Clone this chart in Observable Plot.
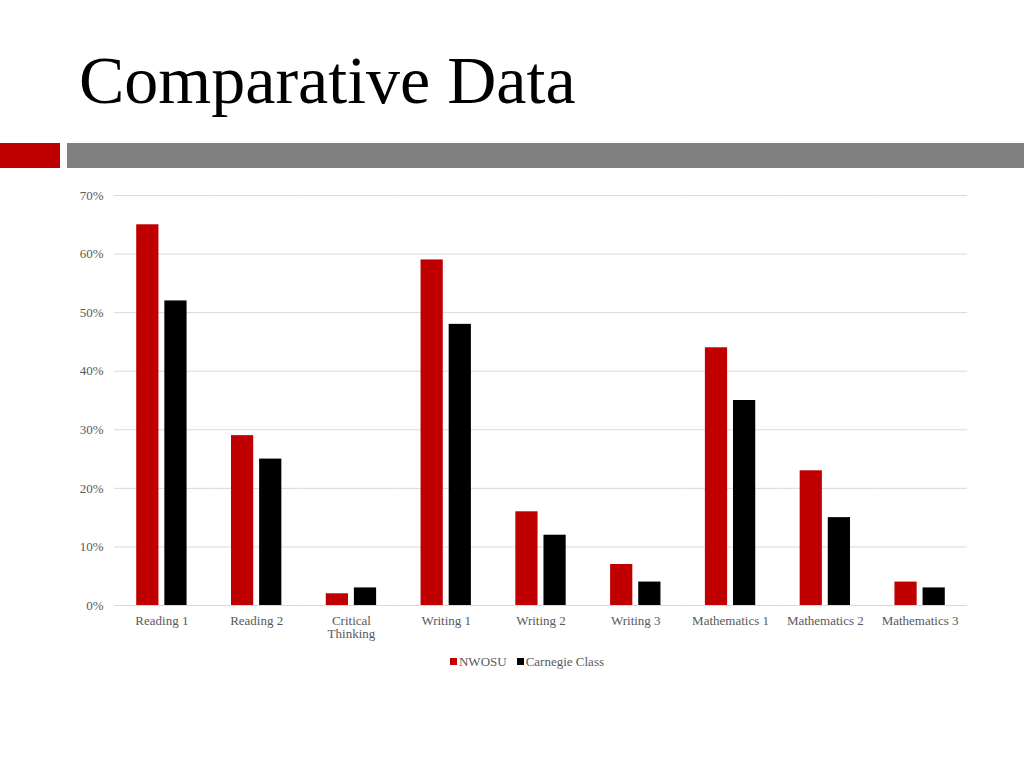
<!DOCTYPE html>
<html>
<head>
<meta charset="utf-8">
<script src="https://cdn.jsdelivr.net/npm/d3@7"></script>
<script src="https://cdn.jsdelivr.net/npm/@observablehq/plot@0.6"></script>
<style>
  html, body { margin: 0; padding: 0; background: #fff; width: 1024px; height: 768px; overflow: hidden; }
  body { position: relative; font-family: "Liberation Serif", "DejaVu Serif", serif; }
  #title { position: absolute; left: 79px; top: 40px; font-size: 68px; line-height: 80px; color: #000; white-space: nowrap; }
  #barRed { position: absolute; left: 0; top: 143px; width: 60px; height: 25px; background: #c00000; }
  #barGray { position: absolute; left: 67px; top: 143px; width: 957px; height: 25px; background: #808080; }
  #chart { position: absolute; left: 0; top: 180px; }
  #legend { position: absolute; left: 0; top: 654px; width: 1054px; text-align: center; font-size: 13px; color: #595959; }
  #legend span.item { display: inline-block; margin: 0 5px; }
  #legend span.sw { display: inline-block; width: 7px; height: 7px; margin-right: 2px; vertical-align: 1px; }
</style>
</head>
<body>
<div id="title">Comparative Data</div>
<div id="barRed"></div>
<div id="barGray"></div>
<div id="chart"></div>
<div id="legend"></div>
<script>
const categories = ["Reading 1", "Reading 2", "Critical Thinking", "Writing 1", "Writing 2", "Writing 3", "Mathematics 1", "Mathematics 2", "Mathematics 3"];
const seriesNames = ["NWOSU", "Carnegie Class"];
const nwosu = [0.65, 0.29, 0.02, 0.59, 0.16, 0.07, 0.44, 0.23, 0.04];
const carnegie = [0.52, 0.25, 0.03, 0.48, 0.12, 0.04, 0.35, 0.15, 0.03];
const colors = ["#c00000", "#000000"];
const yTicks = [0, 0.1, 0.2, 0.3, 0.4, 0.5, 0.6, 0.7];

const data = [];
categories.forEach((c, i) => {
  data.push({category: c, series: seriesNames[0], value: nwosu[i]});
  data.push({category: c, series: seriesNames[1], value: carnegie[i]});
});

const plot = Plot.plot({
  width: 1024,
  height: 470,
  marginTop: 15,
  marginBottom: 45,
  marginLeft: 114,
  marginRight: 57,
  style: { fontFamily: "'Liberation Serif', 'DejaVu Serif', serif", fontSize: "13px", color: "#595959", background: "transparent" },
  fx: { domain: categories, padding: 0, round: false, label: null, tickSize: 0, tickPadding: 10,
        tickFormat: d => d === "Critical Thinking" ? "Critical\nThinking" : d },
  x: { domain: seriesNames, paddingInner: 0.21, paddingOuter: 0.79, round: false, axis: null },
  y: { domain: [0, 0.7], ticks: yTicks, tickFormat: d3.format(".0%"), label: null, tickSize: 0, tickPadding: 11 },
  color: { domain: seriesNames, range: colors },
  marks: [
    Plot.gridY(yTicks, { stroke: "#d9d9d9", strokeOpacity: 1 }),
    Plot.barY(data, { fx: "category", x: "series", y: "value", fill: "series" }),
    Plot.ruleY([0], { stroke: "#d9d9d9" })
  ]
});
document.getElementById("chart").appendChild(plot);

const legend = document.getElementById("legend");
seriesNames.forEach((s, i) => {
  const item = document.createElement("span");
  item.className = "item";
  const sw = document.createElement("span");
  sw.className = "sw";
  sw.style.background = colors[i];
  item.appendChild(sw);
  item.appendChild(document.createTextNode(s));
  legend.appendChild(item);
});
</script>
</body>
</html>
